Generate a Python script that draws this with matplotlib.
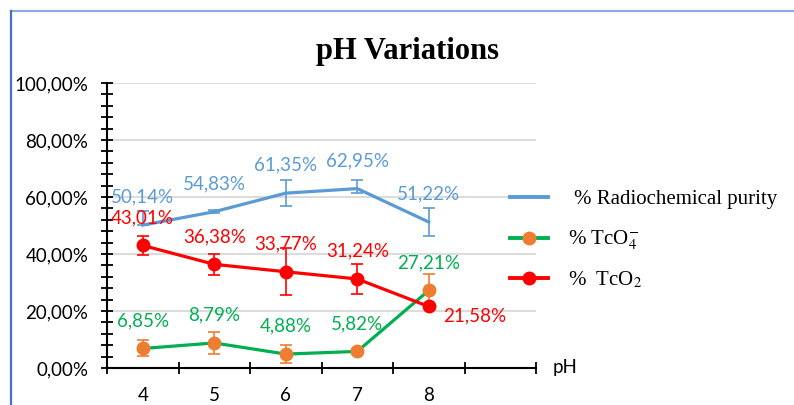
import matplotlib
matplotlib.use("Agg")
import matplotlib.pyplot as plt
from matplotlib.lines import Line2D
from matplotlib.ticker import MultipleLocator, FuncFormatter

# data (values in %)
ph = ["4", "5", "6", "7", "8"]
purity = [50.14, 54.83, 61.35, 62.95, 51.22]
purity_err_lo = [0.0, 0.5, 4.6, 1.6, 4.8]
purity_err_hi = [5.0, 0.5, 4.6, 3.0, 4.8]
tco4 = [6.85, 8.79, 4.88, 5.82, 27.21]
tco4_err = [2.8, 4.0, 3.2, 1.0, 5.8]
tco2 = [43.01, 36.38, 33.77, 31.24, 21.58]
tco2_err = [3.2, 3.7, 8.3, 5.2, 0.0]
series_names = ["% Radiochemical purity", "% TcO$_4^{-}$", "%  TcO$_2$"]

blue = "#5B9BD5"
green = "#00B050"
orange = "#ED7D31"
red = "#FF0000"
lab_font = "Lato"

plt.rcParams["mathtext.fontset"] = "stix"

fig = plt.figure(figsize=(7.94, 4.05), dpi=100)
ax = fig.add_axes([107 / 794, 1 - 368 / 405, 429 / 794, 285 / 405])

x = list(range(len(ph)))

ax.errorbar(x, purity, yerr=[purity_err_lo, purity_err_hi], color=blue, lw=2.3, ecolor=blue,
            elinewidth=1.2, capsize=4.3, capthick=1.2, zorder=3)
ax.errorbar(x, tco4, yerr=tco4_err, color=green, lw=2.3, marker="o", ms=9,
            mfc=orange, mec=orange, ecolor=orange, elinewidth=1.2,
            capsize=4.3, capthick=1.2, zorder=4)
ax.errorbar(x, tco2, yerr=tco2_err, color=red, lw=2.3, marker="o", ms=9,
            mfc=red, mec=red, ecolor=red, elinewidth=1.2,
            capsize=4.3, capthick=1.2, zorder=5)

def pct(v):
    return f"{v:.2f}%".replace(".", ",")

for i in x:
    ax.annotate(pct(purity[i]), (i, purity[i]), xytext=(0, 20), textcoords="offset points",
                ha="center", va="center", color=blue, fontsize=13.5, family=lab_font, zorder=6)
    ax.annotate(pct(tco4[i]), (i, tco4[i]), xytext=(0, 20), textcoords="offset points",
                ha="center", va="center", color=green, fontsize=13.5, family=lab_font, zorder=6)
    off = (0, 20) if i < 4 else (33, -6.5)
    ax.annotate(pct(tco2[i]), (i, tco2[i]), xytext=off, textcoords="offset points",
                ha="center", va="center", color=red, fontsize=13.5, family=lab_font, zorder=6)

ax.set_xlim(-0.5, 5.5)
ax.set_ylim(0, 100)
ax.yaxis.set_major_locator(MultipleLocator(20))
ax.yaxis.set_minor_locator(MultipleLocator(4))
ax.yaxis.set_major_formatter(FuncFormatter(lambda v, p: pct(v)))
ax.set_xticks([i - 0.5 for i in range(7)])
ax.set_xticklabels([])
ax.set_xticks(x, minor=True)
ax.set_xticklabels(ph, minor=True, fontsize=13.5, family=lab_font)
ax.tick_params(axis="x", which="major", direction="inout", length=9, width=1.3)
ax.tick_params(axis="x", which="minor", length=0, pad=14)
ax.tick_params(axis="y", which="both", direction="inout", length=9, width=1.3, pad=9,
               labelsize=13.5)
for t in ax.get_yticklabels():
    t.set_family(lab_font)

ax.grid(axis="y", which="major", color="#D9D9D9", lw=1.3)
ax.set_axisbelow(True)
for s in ["top", "right"]:
    ax.spines[s].set_visible(False)
for s in ["left", "bottom"]:
    ax.spines[s].set_linewidth(1.5)

ax.annotate("pH", (1, 0), xycoords="axes fraction", xytext=(12, 0), textcoords="offset points",
            ha="left", va="center", fontsize=13.5, family=lab_font)

fig.text(408 / 794, 1 - 59 / 405, "pH Variations", ha="center", va="baseline",
         fontsize=22, fontweight="bold", family="Liberation Serif")

# legend drawn by hand so it sits where the reference has it
leg_y = [197, 238, 278]
leg_text_x = [574, 568, 568]
leg_styles = [
    dict(color=blue),
    dict(color=green, marker="o", ms=9, mfc=orange, mec=orange, markevery=[1]),
    dict(color=red, marker="o", ms=9, mfc=red, mec=red, markevery=[1]),
]
for yy, tx, name, st in zip(leg_y, leg_text_x, series_names, leg_styles):
    fy = 1 - yy / 405
    fig.add_artist(Line2D([510 / 794, 529 / 794, 548 / 794], [fy, fy, fy], lw=2.8, **st))
    fig.text(tx / 794, fy - 2 / 405, name, ha="left", va="center",
             fontsize=15, family="Liberation Serif")

# outer frame lines
fig.add_artist(Line2D([11 / 794, 1], [1 - 11 / 405, 1 - 11 / 405], color="#8FAADC", lw=1.6))
fig.add_artist(Line2D([11 / 794, 11 / 794], [0, 1 - 11 / 405], color="#4472C4", lw=1.6))

fig.savefig("out.png", dpi=100)
